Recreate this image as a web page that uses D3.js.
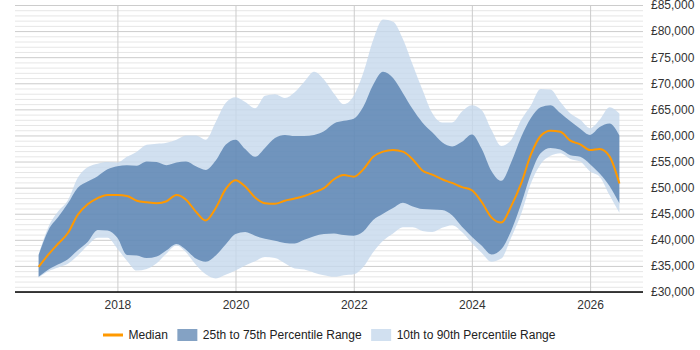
<!DOCTYPE html>
<html>
<head>
<meta charset="utf-8">
<script src="https://cdn.jsdelivr.net/npm/d3@7"></script>
<style>
  body { margin: 0; background: #fff; }
  svg text { font-family: "Liberation Sans", Arial, sans-serif; }
</style>
</head>
<body>
<svg id="chart" width="700" height="350"></svg>
<script>
// bimonthly points, Sep 2016 .. Jul 2026
const dates = d3.timeMonth.range(new Date(2016, 8, 1), new Date(2026, 7, 1), 2);

const p90 = [37200,42500,45500,47600,51900,53900,54600,54900,54800,55900,
  56900,58200,58400,58600,59200,60000,60000,59200,62600,66200,
  67300,66400,65200,67600,67900,67200,68300,70300,72200,70700,
  68000,66000,67600,72000,78300,82200,81800,78500,73500,68800,
  64300,62500,62500,64600,65800,64900,61100,58000,59200,63000,
  65800,68900,68800,66400,64200,63000,61400,63000,65400,64200];

const p75 = [37100,41900,44400,47000,50000,51200,52200,53500,54100,54300,
  54200,55000,54900,54300,54800,55000,54100,53400,55200,58200,
  59200,57400,55900,57600,59500,60100,59900,59900,60100,60800,
  62300,62800,63200,65500,69700,72200,71000,68100,65000,62500,
  60600,58700,57900,58800,60200,57500,53200,51300,54900,59700,
  63400,65400,65800,64300,62700,61300,60100,61600,62300,60000];

const median = [34800,37200,39300,41300,44800,46800,48000,48600,48600,48400,
  47500,47200,47000,47400,48600,47700,45400,43700,46100,49700,
  51400,50200,48100,47000,46900,47500,47900,48400,49100,49900,
  51600,52400,52100,53500,55900,56900,57200,56900,55400,53300,
  52500,51600,50900,50100,49500,47300,44300,43300,46500,50800,
  56400,59900,60900,60700,59000,58300,57200,57400,56000,50800];

const p25 = [32900,34300,35300,36300,38000,39600,41900,41800,40400,37100,
  37000,36500,36800,38000,39200,38100,36400,35800,37000,39100,
  41100,41500,40800,40200,39800,39400,39300,40000,40700,41100,
  41200,40900,40800,41600,43800,45000,46100,47100,46400,45900,
  45800,45700,44700,42500,40600,38900,37200,38200,41800,46900,
  52700,56600,57600,57300,56200,55900,54500,52700,50300,47000];

const p10 = [32800,34000,34700,35400,37000,38900,40400,40400,38300,36000,
  34100,34400,35500,37400,38900,37600,35200,33400,32600,33300,
  34100,35100,35900,36700,36500,35500,34500,34300,33700,33200,
  32900,33200,33400,34800,37600,39800,41200,42400,42400,41700,
  41500,42300,42800,41500,39400,37500,35800,36400,40500,45000,
  50900,54500,56100,56600,55500,55000,53100,52100,48600,45200];

const yMajorTicks = d3.range(30000, 85001, 5000);
const yMinorTicks = d3.range(30000, 85001, 1000).filter(v => v % 5000 !== 0);
const legendLabels = ["Median", "25th to 75th Percentile Range", "10th to 90th Percentile Range"];

const bandColor = "rgb(36,90,149)";
const lightColor = "#c5d8ec";
const medianColor = "#ff9900";

const plotLeft = 15, plotRight = 643, plotTop = 5, plotBottom = 292;

const svg = d3.select("#chart");

const x = d3.scaleTime()
  .domain([new Date(2016, 3, 8), new Date(2026, 10, 24)])
  .range([plotLeft, plotRight]);
const y = d3.scaleLinear().domain([30000, 85000]).range([plotBottom, plotTop]);

const rows = dates.map((date, i) => ({
  date, p10: p10[i], p25: p25[i], median: median[i], p75: p75[i], p90: p90[i]
}));

// gridlines
svg.append("g")
  .attr("transform", `translate(${plotLeft},0)`)
  .call(d3.axisRight(y).tickValues(yMinorTicks).tickSize(plotRight - plotLeft).tickFormat(""))
  .call(g => g.select(".domain").remove())
  .call(g => g.selectAll("line").attr("stroke", "#e6e6e6"));

svg.append("g")
  .attr("transform", `translate(${plotLeft},0)`)
  .call(d3.axisRight(y).tickValues(yMajorTicks).tickSize(plotRight - plotLeft).tickFormat(""))
  .call(g => g.select(".domain").remove())
  .call(g => g.selectAll("line").attr("stroke", "#cccccc"));

svg.append("g")
  .attr("transform", `translate(0,${plotBottom})`)
  .call(d3.axisBottom(x).ticks(d3.timeYear.every(2)).tickSize(-(plotBottom - plotTop)).tickFormat(""))
  .call(g => g.select(".domain").remove())
  .call(g => g.selectAll("line").attr("stroke", "#cccccc"));

// bands
const curve = d3.curveMonotoneX;
svg.append("path")
  .datum(rows)
  .attr("fill", lightColor)
  .attr("fill-opacity", 0.8)
  .attr("d", d3.area().curve(curve).x(d => x(d.date)).y0(d => y(d.p10)).y1(d => y(d.p90)));

svg.append("path")
  .datum(rows)
  .attr("fill", bandColor)
  .attr("fill-opacity", 0.56)
  .attr("d", d3.area().curve(curve).x(d => x(d.date)).y0(d => y(d.p25)).y1(d => y(d.p75)));

svg.append("path")
  .datum(rows)
  .attr("fill", "none")
  .attr("stroke", medianColor)
  .attr("stroke-width", 2)
  .attr("stroke-linejoin", "round")
  .attr("d", d3.line().curve(curve).x(d => x(d.date)).y(d => y(d.median)));

// axes
svg.append("line")
  .attr("x1", plotLeft).attr("x2", plotRight)
  .attr("y1", plotBottom).attr("y2", plotBottom)
  .attr("stroke", "#000").attr("stroke-width", 1.5);

svg.append("g")
  .attr("transform", `translate(${plotRight},0)`)
  .call(d3.axisRight(y).tickValues(yMajorTicks).tickSize(0).tickPadding(8)
    .tickFormat(d => "£" + d3.format(",")(d)))
  .call(g => g.select(".domain").remove())
  .call(g => g.selectAll("text").attr("fill", "#333").style("font-size", "12px")
    .style("font-family", "\"Liberation Sans\", Arial, sans-serif"));

svg.append("g")
  .attr("transform", `translate(0,${plotBottom})`)
  .call(d3.axisBottom(x).ticks(d3.timeYear.every(2)).tickSize(0).tickPadding(8)
    .tickFormat(d3.timeFormat("%Y")))
  .call(g => g.select(".domain").remove())
  .call(g => g.selectAll("text").attr("fill", "#333").style("font-size", "12px")
    .style("font-family", "\"Liberation Sans\", Arial, sans-serif"));

// legend
const legend = svg.append("g").attr("transform", "translate(0,335)");
let lx = 103;
legendLabels.forEach((label, i) => {
  if (i === 0) {
    legend.append("line")
      .attr("x1", lx).attr("x2", lx + 20).attr("y1", 0).attr("y2", 0)
      .attr("stroke", medianColor).attr("stroke-width", 3);
  } else {
    legend.append("rect")
      .attr("x", lx).attr("y", -6).attr("width", 20).attr("height", 12)
      .attr("fill", i === 1 ? bandColor : lightColor)
      .attr("fill-opacity", i === 1 ? 0.56 : 0.8);
  }
  const t = legend.append("text")
    .attr("x", lx + 25.5).attr("y", 4.3)
    .attr("fill", "#222").style("font-size", "12px")
    .text(label);
  lx += 25.5 + t.node().getComputedTextLength() + 9.5;
});
</script>
</body>
</html>
